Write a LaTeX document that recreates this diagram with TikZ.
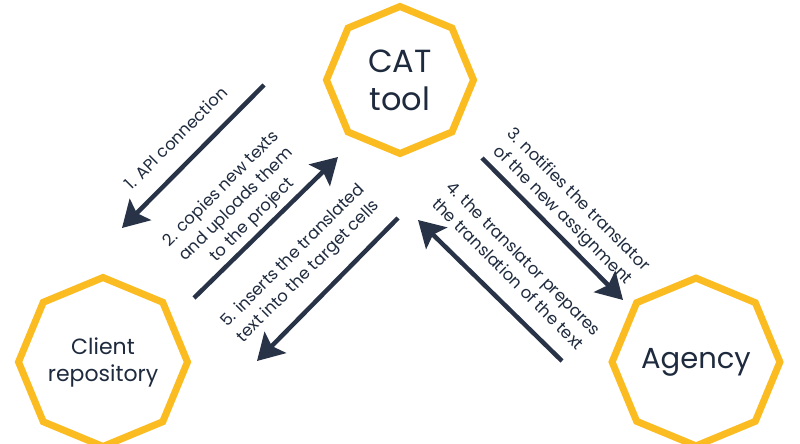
\documentclass[tikz,border=0pt]{standalone}
\usepackage{fontspec}
\setmainfont{Poppins}
\usepackage{xcolor}
\usetikzlibrary{arrows.meta,shapes.geometric}

\definecolor{octyellow}{HTML}{FBBC22}
\definecolor{navytext}{HTML}{1E2A3D}
\definecolor{navyarrow}{HTML}{283347}

\begin{document}
\begin{tikzpicture}[x=1pt, y=1pt,
	station/.style={draw=octyellow, line width=7pt, fill=white, regular polygon, regular polygon sides=8,
		shape border rotate=22.5, minimum size=147pt, inner sep=0pt, text=navytext, align=center},
	flow/.style={draw=navyarrow, line width=4.5pt, -{Stealth[length=26pt, width=30pt, inset=5pt]}},
	lbl/.style={text=navytext, font=\fontsize{16.5}{22}\selectfont, align=center}]
	\useasboundingbox (0,0) rectangle (800,444);
	\node[station, font=\fontsize{32}{38}\selectfont] (cat) at (400,364) {CAT\\tool};
	\node[station, font=\fontsize{22}{27}\selectfont] (client) at (103,82) {Client\\repository};
	\node[station, font=\fontsize{29}{34}\selectfont] (agency) at (696,82) {Agency};
	% arrow ends
	\coordinate (a1s) at (264,359); \coordinate (a1e) at (122,216);
	\coordinate (a2s) at (194,146); \coordinate (a2e) at (338,287);
	\coordinate (a5s) at (398,226); \coordinate (a5e) at (257,83);
	\coordinate (a3s) at (482,286); \coordinate (a3e) at (623,144);
	\coordinate (a4s) at (562,83);  \coordinate (a4e) at (418,224);
	\draw[flow] (a1s) -- (a1e);
	\draw[flow] (a2s) -- (a2e);
	\draw[flow] (a5s) -- (a5e);
	\draw[flow] (a3s) -- (a3e);
	\draw[flow] (a4s) -- (a4e);
	% labels
	\node[lbl, rotate=45] (l1) at (176,306) {1. API connection};
	\node[lbl, rotate=45] (l2) at (237,239) {2. copies new texts\\and uploads them\\to the project};
	\node[lbl, rotate=45] (l5) at (301,180) {5. inserts the translated\\text into the target cells};
	\node[lbl, rotate=-45] (l3) at (570,236) {3. notifies the translator\\of the new assignment};
	\node[lbl, rotate=-45] (l4) at (516,178) {4. the translator prepares\\the translation of the text};
\end{tikzpicture}
\end{document}
